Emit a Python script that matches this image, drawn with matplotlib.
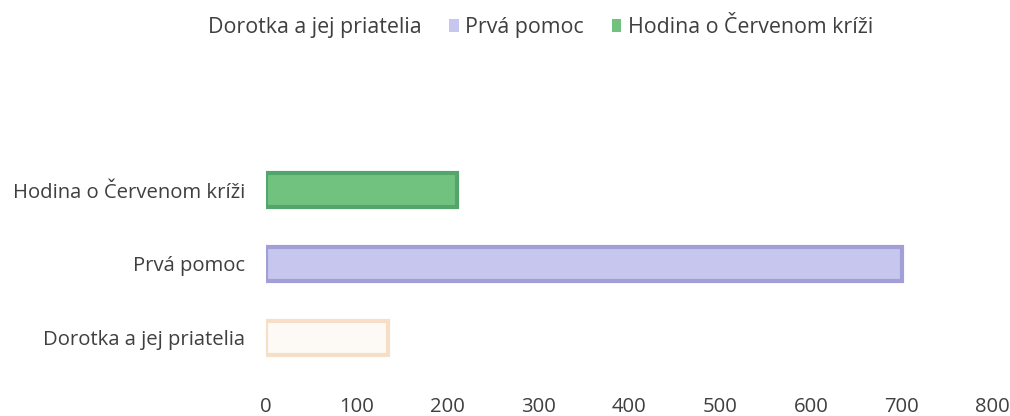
import matplotlib

matplotlib.use("Agg")
import matplotlib.pyplot as plt
from matplotlib.patches import Patch

categories = ["Dorotka a jej priatelia", "Prvá pomoc", "Hodina o Červenom kríži"]
values = [135, 700, 210]
ticks = [0, 100, 200, 300, 400, 500, 600, 700, 800]

FILL = ["#fdfaf6", "#c6c6ee", "#72c27f"]
EDGE = ["#f6dfc6", "#a29ed6", "#54a56c"]
TEXT = "#3f3f3f"

plt.rcParams["font.family"] = ["Open Sans", "DejaVu Sans"]

fig = plt.figure(figsize=(10.1, 4.16), dpi=100)
ax = fig.add_axes([0.263, 0.099, 0.72, 0.533])

ax.barh(range(len(categories)), values, height=0.46,
        color=FILL, edgecolor=EDGE, linewidth=3)

ax.set_xlim(0, 800)
ax.set_ylim(-0.5, 2.5)
ax.set_xticks(ticks)
ax.set_yticks(range(len(categories)))
ax.set_yticklabels(categories)
ax.tick_params(axis="both", length=0, labelsize=14.6, colors=TEXT)
ax.tick_params(axis="x", pad=16)
ax.tick_params(axis="y", pad=15)
for s in ax.spines.values():
    s.set_visible(False)

handles = [Patch(facecolor=f, edgecolor="none", label=c)
           for c, f in zip(categories, ["#ffffff", FILL[1], FILL[2]])]
fig.legend(handles=handles, loc="upper center", bbox_to_anchor=(0.527, 1.005),
           ncol=3, frameon=False, fontsize=15.4, labelcolor=TEXT,
           handlelength=0.45, handleheight=0.55, handletextpad=0.3,
           columnspacing=1.3)

fig.savefig("out.png", dpi=100)
